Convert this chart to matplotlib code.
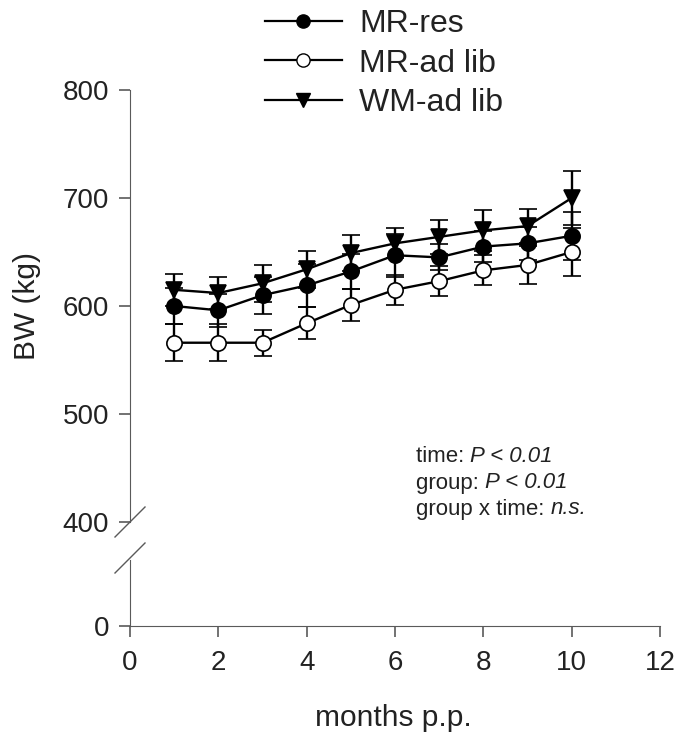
import numpy as np
from matplotlib import pyplot as plt
from matplotlib.lines import Line2D

plt.rcParams['font.family'] = ['Liberation Sans', 'DejaVu Sans']

# months post partum
months = [1, 2, 3, 4, 5, 6, 7, 8, 9, 10]

# body weight (kg) and error bars
mr_res = [600, 596, 610, 619, 632, 647, 645, 655, 658, 665]
mr_res_err = [17, 15, 17, 20, 16, 20, 12, 14, 15, 22]
mr_adlib = [566, 566, 566, 584, 601, 615, 623, 633, 638, 650]
mr_adlib_err = [17, 17, 12, 15, 15, 14, 14, 14, 18, 22]
wm_adlib = [615, 612, 621, 634, 649, 658, 664, 670, 674, 700]
wm_adlib_err = [15, 15, 17, 17, 17, 14, 16, 19, 16, 25]

labels = ['MR-res', 'MR-ad lib', 'WM-ad lib']
upper_ticks = [400, 500, 600, 700, 800]
x_ticks = [0, 2, 4, 6, 8, 10, 12]

axcol = '#5a5a5a'
txtcol = '#222222'
W, H = 681, 736

fig = plt.figure(figsize=(W / 100, H / 100), dpi=100)

# broken y axis: upper part 400-800, lower part around 0
x0, x1 = 130 / W, 660 / W
ax = fig.add_axes([x0, 1 - 522 / H, x1 - x0, (522 - 90) / H])
axb = fig.add_axes([x0, 1 - 626 / H, x1 - x0, (626 - 560) / H])

common = dict(color='black', lw=1.7, capsize=6.5, capthick=1.7, elinewidth=1.7,
              markersize=11, markeredgewidth=1.2, markeredgecolor='black')
ax.errorbar(months, mr_res, yerr=mr_res_err, fmt='-o', markerfacecolor='black', **common)
ax.errorbar(months, mr_adlib, yerr=mr_adlib_err, fmt='-o', markerfacecolor='white', **common)
ax.errorbar(months, wm_adlib, yerr=wm_adlib_err, fmt='-v', markerfacecolor='black', **common)

ax.set_xlim(0, 12)
ax.set_ylim(400, 800)
axb.set_xlim(0, 12)
axb.set_ylim(0, 61)

for a in (ax, axb):
    for s in ['top', 'right']:
        a.spines[s].set_visible(False)
    a.spines['left'].set_color(axcol)
    a.spines['bottom'].set_color(axcol)
    a.tick_params(direction='out', length=8, width=1.2, color=axcol,
                  labelsize=20, labelcolor=txtcol, pad=7)

ax.spines['bottom'].set_visible(False)
ax.set_xticks([])
ax.set_yticks(upper_ticks)
axb.set_yticks([0])
axb.set_xticks(x_ticks)
axb.tick_params(axis='x', pad=9)

# break marks
for yb in (522, 558):
    fig.add_artist(Line2D([115 / W, 145 / W], [1 - (yb + 15) / H, 1 - (yb - 15) / H],
                          color=axcol, lw=1.0))

fig.text(27 / W, 1 - 306 / H, 'BW (kg)', rotation=90, fontsize=21.5, color=txtcol,
         ha='center', va='center')
fig.text(393 / W, 1 - 718 / H, 'months p.p.', fontsize=21.5, color=txtcol,
         ha='center', va='center')

# legend handles without the error bars
handles = [Line2D([], [], color='black', lw=1.6, marker='o', markersize=9.5,
                  markerfacecolor='black', markeredgecolor='black'),
           Line2D([], [], color='black', lw=1.6, marker='o', markersize=9.5,
                  markerfacecolor='white', markeredgecolor='black'),
           Line2D([], [], color='black', lw=1.6, marker='v', markersize=9.5,
                  markerfacecolor='black', markeredgecolor='black')]
leg = ax.legend(handles, labels, loc='upper left', bbox_to_anchor=(265 / W, 1 - 9 / H),
                bbox_transform=fig.transFigure, frameon=False, fontsize=23,
                handlelength=2.4, handletextpad=0.55, labelspacing=0.3,
                borderaxespad=0, borderpad=0)
for t in leg.get_texts():
    t.set_color(txtcol)

# statistics text, italic part after the plain part
stats = [('time: ', 'P < 0.01'), ('group: ', 'P < 0.01'), ('group x time: ', 'n.s.')]
for i, (plain, ital) in enumerate(stats):
    t = fig.text(416 / W, 1 - (457 + i * 26) / H, plain, fontsize=16, color=txtcol,
                 ha='left', va='center')
    ax.annotate(ital, xy=(1, 0), xycoords=t, va='bottom', ha='left', fontsize=16,
                style='italic', color=txtcol)

fig.savefig('out.png', dpi=100)
